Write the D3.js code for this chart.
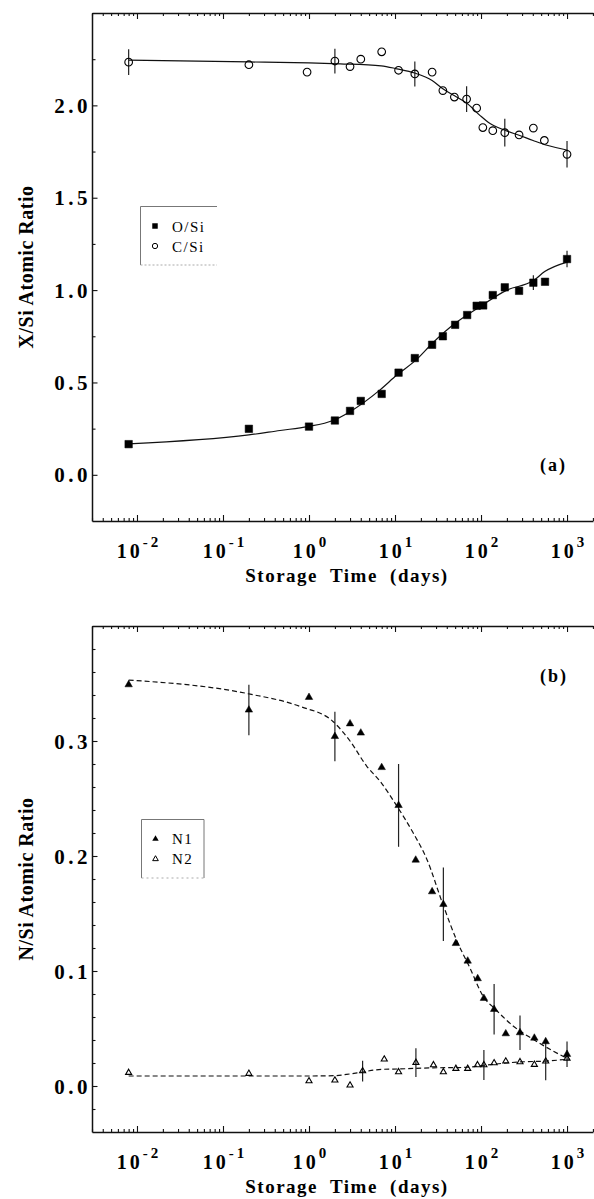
<!DOCTYPE html>
<html lang="en">
<head>
  <meta charset="UTF-8" />
  <title>X/Si and N/Si atomic ratio vs storage time</title>
  <script src="https://cdn.jsdelivr.net/npm/d3@7"></script>
  <style>
    html, body { margin: 0; background: #fff; }
    svg { display: block; font-family: "Liberation Serif", "Times New Roman", serif; }
    .axis path, .axis line { stroke: #111; }
    .axis path { stroke-width: 1.5; }
    .axis line { stroke-width: 1.1; }
    .ylbl { font-size: 21px; font-weight: bold; letter-spacing: 3.5px; }
    .xlbl { font-size: 20px; font-weight: bold; letter-spacing: 3px; }
    .title { font-size: 20px; font-weight: bold; letter-spacing: 0.5px; }
    .xtitle { font-size: 19px; font-weight: bold; letter-spacing: 1.5px; word-spacing: 6px; }
    .tag { font-size: 18px; font-weight: bold; letter-spacing: 2px; }
    .leg { font-size: 15px; letter-spacing: 1.5px; }
  </style>
</head>
<body>
  <svg id="chart" width="594" height="1199"></svg>
  <script>
    // ---- shared x axis (log, days) ----
    const decadeExps = [-2, -1, 0, 1, 2, 3];

    // ---- panel (a): X/Si ----
    const csiDays  = [0.008, 0.2, 0.95, 2, 3, 4, 7, 11, 17, 27, 36, 49, 68, 89, 105, 137, 189, 277, 406, 545, 1000];
    const csiRatio = [2.234, 2.22, 2.18, 2.24, 2.21, 2.25, 2.29, 2.19, 2.17, 2.18, 2.08, 2.045, 2.034, 1.985, 1.88, 1.863, 1.852, 1.84, 1.877, 1.81, 1.735];
    const csiErr   = [0.07, 0, 0, 0.067, 0, 0, 0, 0, 0.068, 0, 0, 0, 0.07, 0, 0, 0, 0.075, 0, 0, 0, 0.072];
    const csiFitDays  = [0.008, 0.2, 1.0, 2.3, 6.9, 10.5, 17, 27, 36, 52, 69, 97, 120, 190, 277, 403, 585, 1020];
    const csiFitRatio = [2.245, 2.235, 2.23, 2.225, 2.214, 2.198, 2.175, 2.135, 2.09, 2.045, 2.01, 1.946, 1.91, 1.865, 1.838, 1.81, 1.784, 1.757];

    const osiDays  = [0.008, 0.2, 1, 2, 3, 4, 7, 11, 17, 27, 36, 50, 69, 89, 106, 137, 189, 277, 406, 555, 1000];
    const osiRatio = [0.166, 0.249, 0.261, 0.294, 0.346, 0.40, 0.438, 0.553, 0.632, 0.704, 0.75, 0.812, 0.865, 0.915, 0.917, 0.973, 1.015, 0.996, 1.04, 1.045, 1.168];
    const osiErr   = [0, 0, 0, 0, 0, 0, 0, 0, 0, 0, 0, 0, 0, 0, 0, 0, 0, 0, 0.04, 0, 0.045];
    const osiFitDays  = [0.008, 0.2, 0.46, 0.97, 1.9, 3.0, 6.7, 10.5, 17.6, 27.6, 50, 97, 200, 403, 550, 1020];
    const osiFitRatio = [0.168, 0.216, 0.24, 0.261, 0.294, 0.342, 0.46, 0.54, 0.622, 0.715, 0.82, 0.91, 1.0, 1.05, 1.10, 1.153];

    const aYLabels = [0.0, 0.5, 1.0, 1.5, 2.0];
    const aYMinor  = [0.25, 0.75, 1.25, 1.75, 2.25];

    // ---- panel (b): N/Si ----
    const n1Days  = [0.008, 0.2, 1, 2, 3, 4, 7, 11, 17.4, 27, 36.5, 51, 70, 91.5, 108, 142, 194, 284, 417, 565, 1000];
    const n1Ratio = [0.349, 0.327, 0.338, 0.304, 0.315, 0.307, 0.277, 0.244, 0.1965, 0.169, 0.158, 0.124, 0.1087, 0.0934, 0.0763, 0.0667, 0.0455, 0.0464, 0.0417, 0.0386, 0.0276];
    const n1Err   = [0, 0.022, 0, 0.0215, 0, 0, 0, 0.036, 0, 0, 0.032, 0, 0, 0, 0, 0.022, 0, 0.015, 0, 0, 0.011];
    const n1FitDays  = [0.008, 0.2, 0.79, 1.9, 3.0, 4.7, 6.7, 10.5, 16.3, 23.5, 36, 52.6, 74, 106, 147, 238, 403, 688, 1050];
    const n1FitRatio = [0.353, 0.341, 0.330, 0.317, 0.300, 0.278, 0.265, 0.2435, 0.220, 0.197, 0.158, 0.126, 0.103, 0.078, 0.0667, 0.052, 0.0406, 0.0304, 0.0232];

    const n2Days  = [0.008, 0.2, 1, 2, 3, 4.2, 7.5, 11, 17.5, 28, 36.5, 51, 70, 91, 108, 142, 194, 284, 417, 565, 1000];
    const n2Ratio = [0.0116, 0.0108, 0.0043, 0.005, 0.0006, 0.013, 0.0232, 0.0122, 0.0203, 0.0183, 0.0122, 0.0151, 0.0151, 0.0183, 0.0183, 0.02, 0.0215, 0.0209, 0.0186, 0.0215, 0.024];
    const n2Err   = [0, 0, 0, 0, 0, 0.009, 0, 0, 0.0125, 0, 0, 0, 0, 0, 0.013, 0, 0, 0, 0, 0.0165, 0];
    const n2FitDays  = [0.008, 0.2, 1, 2, 3, 4.2, 7, 11, 17.5, 28, 51, 70, 108, 284, 565, 1000];
    const n2FitRatio = [0.0087, 0.0087, 0.0087, 0.009, 0.0105, 0.0122, 0.0145, 0.0148, 0.0154, 0.0158, 0.016, 0.0163, 0.018, 0.0209, 0.0217, 0.0232];

    const bYLabels = [0.0, 0.1, 0.2, 0.3];
    const bYMinor  = [-0.02, 0.02, 0.04, 0.06, 0.08, 0.12, 0.14, 0.16, 0.18, 0.22, 0.24, 0.26, 0.28, 0.32, 0.34, 0.36, 0.38];

    const svg = d3.select("#chart");
    const left = 92, right = 593;
    const xDomain = [Math.pow(10, -2.523), Math.pow(10, 3.302)];

    function zip(xs, ys, es) {
      return xs.map((d, i) => ({ x: d, y: ys[i], e: es ? es[i] : 0 }));
    }

    function drawFrame(p) {
      const x = d3.scaleLog().domain(xDomain).range([left, right]);
      const y = d3.scaleLinear().domain(p.yDomain).range([p.bottom, p.top]);

      const allX = x.ticks();
      const isDecade = v => Math.abs(Math.log10(v) - Math.round(Math.log10(v))) < 1e-9;
      const majorX = allX.filter(isDecade);
      const minorX = allX.filter(v => !isDecade(v));

      // bottom + top axes, ticks pointing inward
      [[d3.axisBottom, p.bottom, 1], [d3.axisTop, p.top, 1]].forEach(([ax, yy]) => {
        svg.append("g").attr("class", "axis")
          .attr("transform", `translate(0,${yy})`)
          .call(ax(x).tickValues(minorX).tickSize(-3).tickSizeOuter(0).tickFormat(""));
        svg.append("g").attr("class", "axis")
          .attr("transform", `translate(0,${yy})`)
          .call(ax(x).tickValues(majorX).tickSize(-6).tickSizeOuter(0).tickFormat(""))
          .select(".domain").remove();
      });

      // left axis
      svg.append("g").attr("class", "axis")
        .attr("transform", `translate(${left},0)`)
        .call(d3.axisLeft(y).tickValues(p.yMinor).tickSize(-3.5).tickSizeOuter(0).tickFormat(""));
      svg.append("g").attr("class", "axis")
        .attr("transform", `translate(${left},0)`)
        .call(d3.axisLeft(y).tickValues(p.yLabels).tickSize(-5.5).tickSizeOuter(0).tickFormat(""))
        .select(".domain").remove();

      // y tick labels
      svg.append("g").selectAll("text")
        .data(p.yLabels).enter().append("text")
        .attr("class", "ylbl")
        .attr("x", 91)
        .attr("y", d => y(d) + 7.5)
        .attr("text-anchor", "end")
        .text(d3.format(".1f"));

      // x tick labels: 10^n
      const xl = svg.append("g").selectAll("text")
        .data(decadeExps).enter().append("text")
        .attr("class", "xlbl")
        .attr("x", d => x(Math.pow(10, d)) + 2)
        .attr("y", p.bottom + 37)
        .attr("text-anchor", "middle");
      xl.append("tspan").text("10");
      xl.append("tspan").attr("dy", -11).style("font-size", "15px").text(d => String(d));

      // axis titles
      svg.append("text").attr("class", "xtitle")
        .attr("x", 347).attr("y", p.bottom + 61)
        .attr("text-anchor", "middle")
        .text("Storage Time (days)");
      svg.append("text").attr("class", "title")
        .attr("transform", `translate(33,${(p.top + p.bottom) / 2}) rotate(-90)`)
        .attr("text-anchor", "middle")
        .text(p.yTitle);

      svg.append("text").attr("class", "tag")
        .attr("x", 540).attr("y", p.tagY)
        .text(p.tag);

      return { x, y };
    }

    function fitLine(s, xs, ys, dash) {
      const line = d3.line().x(d => s.x(d.x)).y(d => s.y(d.y)).curve(d3.curveMonotoneX);
      svg.append("path")
        .datum(zip(xs, ys))
        .attr("d", line)
        .attr("fill", "none")
        .attr("stroke", "#111")
        .attr("stroke-width", 1.2)
        .attr("stroke-dasharray", dash ? "5,3" : null);
    }

    function errorBars(s, pts) {
      svg.append("g").selectAll("line")
        .data(pts.filter(d => d.e > 0)).enter().append("line")
        .attr("x1", d => s.x(d.x)).attr("x2", d => s.x(d.x))
        .attr("y1", d => s.y(d.y - d.e)).attr("y2", d => s.y(d.y + d.e))
        .attr("stroke", "#222").attr("stroke-width", 1.2);
    }

    function markers(s, pts, type, size, filled) {
      svg.append("g").selectAll("path")
        .data(pts).enter().append("path")
        .attr("transform", d => `translate(${s.x(d.x)},${s.y(d.y)})`)
        .attr("d", d3.symbol().type(type).size(size))
        .attr("fill", filled ? "#000" : "none")
        .attr("stroke", "#000")
        .attr("stroke-width", filled ? 0.5 : 1.1);
    }

    // ---------- panel (a) ----------
    const sa = drawFrame({
      top: 13, bottom: 521, yDomain: [-0.25, 2.5],
      yLabels: aYLabels, yMinor: aYMinor,
      yTitle: "X/Si Atomic Ratio", tag: "(a)", tagY: 471
    });
    fitLine(sa, csiFitDays, csiFitRatio, false);
    fitLine(sa, osiFitDays, osiFitRatio, false);
    const csiPts = zip(csiDays, csiRatio, csiErr);
    const osiPts = zip(osiDays, osiRatio, osiErr);
    errorBars(sa, csiPts);
    errorBars(sa, osiPts);
    markers(sa, osiPts, d3.symbolSquare, 56, true);
    markers(sa, csiPts, d3.symbolCircle, 46, false);

    // legend (a)
    const la = svg.append("g");
    la.append("path").attr("d", "M140.5,265V206.5H217").attr("fill", "none").attr("stroke", "#777");
    la.append("line").attr("x1", 140.5).attr("x2", 217).attr("y1", 265).attr("y2", 265)
      .attr("stroke", "#aaa").attr("stroke-dasharray", "2,2");
    la.append("path").attr("transform", "translate(155,226)")
      .attr("d", d3.symbol().type(d3.symbolSquare).size(30)).attr("fill", "#000");
    la.append("path").attr("transform", "translate(155,246)")
      .attr("d", d3.symbol().type(d3.symbolCircle).size(22)).attr("fill", "none").attr("stroke", "#000");
    la.append("text").attr("class", "leg").attr("x", 172).attr("y", 231.5).text("O/Si");
    la.append("text").attr("class", "leg").attr("x", 172).attr("y", 251.5).text("C/Si");

    // ---------- panel (b) ----------
    const sb = drawFrame({
      top: 626, bottom: 1132, yDomain: [-0.04, 0.4],
      yLabels: bYLabels, yMinor: bYMinor,
      yTitle: "N/Si Atomic Ratio", tag: "(b)", tagY: 682
    });
    fitLine(sb, n1FitDays, n1FitRatio, true);
    fitLine(sb, n2FitDays, n2FitRatio, true);
    const n1Pts = zip(n1Days, n1Ratio, n1Err);
    const n2Pts = zip(n2Days, n2Ratio, n2Err);
    errorBars(sb, n1Pts);
    errorBars(sb, n2Pts);
    markers(sb, n2Pts, d3.symbolTriangle, 16, false);
    markers(sb, n1Pts, d3.symbolTriangle, 24, true);

    // legend (b)
    const lb = svg.append("g");
    lb.append("path").attr("d", "M141.5,878V819.5H204V878").attr("fill", "none").attr("stroke", "#777");
    lb.append("line").attr("x1", 141.5).attr("x2", 204).attr("y1", 878).attr("y2", 878)
      .attr("stroke", "#aaa").attr("stroke-dasharray", "2,3");
    lb.append("path").attr("transform", "translate(155.5,839)")
      .attr("d", d3.symbol().type(d3.symbolTriangle).size(18)).attr("fill", "#000");
    lb.append("path").attr("transform", "translate(155.5,859)")
      .attr("d", d3.symbol().type(d3.symbolTriangle).size(14)).attr("fill", "none").attr("stroke", "#000");
    lb.append("text").attr("class", "leg").attr("x", 172).attr("y", 844).text("N1");
    lb.append("text").attr("class", "leg").attr("x", 172).attr("y", 864).text("N2");
  </script>
</body>
</html>
